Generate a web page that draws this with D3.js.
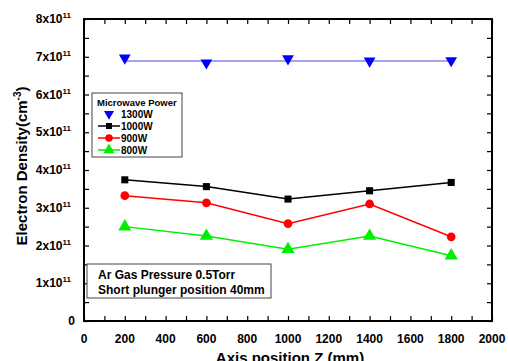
<!DOCTYPE html>
<html>
<head>
<meta charset="utf-8">
<script src="https://cdn.jsdelivr.net/npm/d3@7"></script>
<style>
  body { margin: 0; background: #fff; }
  text { font-family: "Liberation Sans", Arial, sans-serif; font-weight: bold; }
</style>
</head>
<body>
<svg id="chart" width="508" height="361"></svg>
<script>
// data (density in units of 1e11 cm^-3)
const positions = [200, 600, 1000, 1400, 1800];
const p1300 = [6.97, 6.84, 6.95, 6.89, 6.90];
const p1000 = [3.74, 3.56, 3.23, 3.45, 3.67];
const p900 = [3.32, 3.13, 2.58, 3.10, 2.23];
const p800 = [2.50, 2.25, 1.90, 2.25, 1.73];
const fitLevel1300 = 6.89;
const xTickLabels = [0, 200, 400, 600, 800, 1000, 1200, 1400, 1600, 1800, 2000];
const yTickLabels = [0, 1, 2, 3, 4, 5, 6, 7, 8];

const svg = d3.select("#chart");
const plotLeft = 84, plotRight = 492, plotTop = 19, plotBottom = 321;

const x = d3.scaleLinear().domain([0, 2000]).range([plotLeft, plotRight]);
const y = d3.scaleLinear().domain([0, 8]).range([plotBottom, plotTop]);

// axes with inward ticks
const xMinor = d3.range(0, 2001, 100);
const yMinor = d3.range(0, 8.01, 0.5);

svg.append("g")
  .attr("transform", "translate(0," + plotBottom + ")")
  .call(d3.axisTop(x).tickValues(xMinor).tickSize(5).tickFormat(""))
  .call(g => g.select(".domain").remove());
svg.append("g")
  .attr("transform", "translate(0," + plotTop + ")")
  .call(d3.axisBottom(x).tickValues(xMinor).tickSize(5).tickFormat(""))
  .call(g => g.select(".domain").remove());
svg.append("g")
  .attr("transform", "translate(" + plotLeft + ",0)")
  .call(d3.axisRight(y).tickValues(yMinor).tickSize(5).tickFormat(""))
  .call(g => g.select(".domain").remove());
svg.append("g")
  .attr("transform", "translate(" + plotRight + ",0)")
  .call(d3.axisLeft(y).tickValues(yMinor).tickSize(5).tickFormat(""))
  .call(g => g.select(".domain").remove());
svg.selectAll(".tick line").attr("stroke", "#000").attr("stroke-width", 1.2);

// frame
svg.append("rect")
  .attr("x", plotLeft).attr("y", plotTop)
  .attr("width", plotRight - plotLeft).attr("height", plotBottom - plotTop)
  .attr("fill", "none").attr("stroke", "#000").attr("stroke-width", 2);

// x tick labels
svg.append("g").selectAll("text")
  .data(xTickLabels)
  .enter().append("text")
  .attr("x", d => x(d))
  .attr("y", plotBottom + 22)
  .attr("text-anchor", "middle")
  .attr("font-size", 12)
  .text(d => d);

// y tick labels
const yl = svg.append("g").selectAll("text")
  .data(yTickLabels)
  .enter().append("text")
  .attr("x", d => d === 0 ? plotLeft - 9 : plotLeft - 13)
  .attr("y", d => y(d) + 4)
  .attr("text-anchor", "end")
  .attr("font-size", 12);
yl.filter(d => d === 0).text("0");
yl.filter(d => d !== 0).each(function(d) {
  const t = d3.select(this);
  t.append("tspan").text(d + "x10");
  t.append("tspan").attr("dy", -5).attr("font-size", 8).text("11");
});

// axis titles
svg.append("text")
  .attr("x", x(1000) + 2).attr("y", 363)
  .attr("text-anchor", "middle")
  .attr("font-size", 15)
  .text("Axis position Z (mm)");

const yt = svg.append("text")
  .attr("transform", "translate(27,166) rotate(-90)")
  .attr("text-anchor", "middle")
  .attr("font-size", 15);
yt.append("tspan").text("Electron Density(cm");
yt.append("tspan").attr("dy", -6).attr("font-size", 10).text("-3");
yt.append("tspan").attr("dy", 6).text(")");

// series
const series = [
  { name: "1300W", values: p1300, color: "#0000ff", shape: "down", line: false },
  { name: "1000W", values: p1000, color: "#000000", shape: "square", line: true },
  { name: "900W", values: p900, color: "#ff0000", shape: "circle", line: true },
  { name: "800W", values: p800, color: "#00ee00", shape: "triangle", line: true }
];
const symbolFor = s => ({
  down: d3.symbol().type(d3.symbolTriangle).size(60),
  square: d3.symbol().type(d3.symbolSquare).size(50),
  circle: d3.symbol().type(d3.symbolCircle).size(60),
  triangle: d3.symbol().type(d3.symbolTriangle).size(75)
})[s];

const line = d3.line().x(d => x(d[0])).y(d => y(d[1]));

// flat fit line for 1300W
svg.append("path")
  .attr("d", line([[positions[0], fitLevel1300], [positions[positions.length - 1], fitLevel1300]]))
  .attr("stroke", "#8585e6").attr("stroke-width", 1.5).attr("fill", "none");

series.forEach(s => {
  const pts = positions.map((p, i) => [p, s.values[i]]);
  if (s.line) {
    svg.append("path")
      .attr("d", line(pts))
      .attr("stroke", s.color).attr("stroke-width", 1.5).attr("fill", "none");
  }
  svg.append("g").selectAll("path")
    .data(pts)
    .enter().append("path")
    .attr("d", symbolFor(s.shape)())
    .attr("transform", d => "translate(" + x(d[0]) + "," + y(d[1]) + ")" + (s.shape === "down" ? " rotate(180)" : ""))
    .attr("fill", s.color);
});

// legend
const lg = svg.append("g").attr("transform", "translate(92,93)");
lg.append("rect").attr("width", 90).attr("height", 64)
  .attr("fill", "#fff").attr("stroke", "#444").attr("stroke-width", 1);
lg.append("text").attr("x", 5).attr("y", 13).attr("font-size", 9.5).text("Microwave Power");
series.forEach((s, i) => {
  const cy = 21 + i * 12;
  if (s.line) {
    lg.append("line").attr("x1", 6).attr("x2", 28).attr("y1", cy).attr("y2", cy)
      .attr("stroke", s.color).attr("stroke-width", 1.5);
  }
  lg.append("path")
    .attr("d", symbolFor(s.shape)())
    .attr("transform", "translate(17," + cy + ") scale(0.85)" + (s.shape === "down" ? " rotate(180)" : ""))
    .attr("fill", s.color);
  lg.append("text").attr("x", 29).attr("y", cy + 4).attr("font-size", 10).text(s.name);
});

// conditions box
const cb = svg.append("g").attr("transform", "translate(87,264)");
cb.append("rect").attr("width", 184).attr("height", 34)
  .attr("fill", "#fff").attr("stroke", "#444").attr("stroke-width", 1);
cb.append("text").attr("x", 11).attr("y", 15).attr("font-size", 12).text("Ar Gas Pressure 0.5Torr");
cb.append("text").attr("x", 11).attr("y", 29.5).attr("font-size", 12).text("Short plunger position 40mm");
</script>
</body>
</html>
